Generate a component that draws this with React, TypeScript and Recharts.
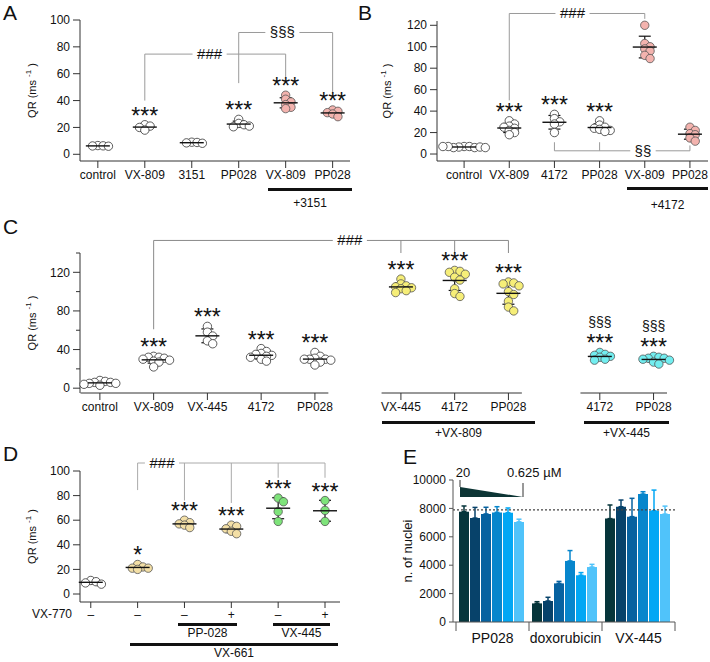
import React from 'react';
import {
  ScatterChart, Scatter, BarChart, Bar, XAxis, YAxis, ErrorBar,
  ReferenceLine, ReferenceDot,
} from 'recharts';

const FONT = '"Liberation Sans", Arial, Helvetica, sans-serif';
const AXIS = '#333';
const BRACKET = '#9a9a9a';
const R = 4.2;
const SLOT = 5.3;

const WHITE = '#ffffff';
const PINK = '#f3b3ae';
const YELLOW = '#f6ee78';
const CYAN = '#72eef0';
const BEIGE = '#f3dfa6';
const GREEN = '#7ee37a';

// ---- panel A ----
const aLabels = ['control', 'VX-809', '3151', 'PP028', 'VX-809', 'PP028'];
const aControl = [6.5, 6.3, 6.2, 6.0];
const aVX809 = [22, 21, 20, 18];
const a3151 = [9, 8.8, 8.5, 8.2];
const aPP028 = [26, 23, 22, 20.5, 21];
const aVX809_3151 = [44, 41, 39, 37, 35, 34];
const aPP028_3151 = [33, 32, 31, 30, 28];

// ---- panel B ----
const bLabels = ['control', 'VX-809', '4172', 'PP028', 'VX-809', 'PP028'];
const bControl = [7, 7, 6.5, 6, 6, 6.5, 7, 6, 7];
const bVX809 = [31, 28, 26, 25, 24, 22, 20, 18];
const b4172 = [37, 33, 30, 28, 20];
const bPP028 = [31, 27, 25, 24, 23, 22, 21];
const bVX809_4172 = [120, 103, 100, 98, 96, 92, 89];
const bPP028_4172 = [25, 22, 19, 18, 15, 12];

// ---- panel C ----
const cLabels = ['control', 'VX-809', 'VX-445', '4172', 'PP028', 'VX-445', '4172', 'PP028', '4172', 'PP028'];
const cSets = [0, 0, 0, 0, 0, 1, 1, 1, 2, 2];
const cControl = [8, 7, 6, 6, 5, 5, 4, 3];
const cVX809 = [33, 32, 32, 31, 30, 29, 28, 27, 22];
const cVX445 = [64, 58, 54, 49, 46];
const c4172 = [41, 38, 36, 35, 34, 33, 32, 30, 28];
const cPP028 = [37, 33, 31, 30, 30, 30, 29, 27, 24];
const cVX445_809 = [113, 108, 106, 105, 104, 103, 101, 99];
const c4172_809 = [122, 121, 120, 118, 115, 112, 103, 98, 95];
const cPP028_809 = [110, 109, 108, 106, 100, 97, 90, 84, 80];
const c4172_445 = [37, 35, 34, 33, 32, 30, 29];
const cPP028_445 = [33, 32, 31, 31, 30, 29, 27, 25];

// ---- panel D ----
const dLabels = ['–', '–', '–', '+', '–', '+'];
const dControl = [11, 10, 9, 8];
const dVX661 = [24, 22, 21, 21, 20];
const dPP028 = [60, 58, 57, 56, 54];
const dPP028_770 = [56, 55, 53, 51, 49];
const dVX445 = [78, 75, 67, 59];
const dVX445_770 = [76, 68, 59];

// ---- panel E ----
const eCompounds = ['PP028', 'doxorubicin', 'VX-445'];
const ePP028 = [7770, 7320, 7610, 7720, 7700, 7050];
const ePP028Err = [400, 750, 470, 400, 330, 190];
const eDoxo = [1310, 1480, 2720, 4300, 3290, 3870];
const eDoxoErr = [120, 260, 140, 730, 190, 190];
const eVX445 = [7280, 8120, 7420, 9010, 7840, 7600];
const eVX445Err = [960, 470, 1290, 165, 1450, 560];
const eBaseline = 7900;
const eColors = ['#06353b', '#07426a', '#0762a0', '#0786cc', '#02a7f4', '#50c3fa'];

type Group = { label: string; values: number[]; fill: string; x: number };
type Bracket = { y: number; from: number; to: number; text: string; at: number; legs: { g: number; to: number }[]; color?: string };
type Sig = { g: number; lines: string[] };

const mean = (a: number[]) => a.reduce((s, v) => s + v, 0) / a.length;
const sdev = (a: number[]) => {
  const m = mean(a);
  return Math.sqrt(a.reduce((s, v) => s + (v - m) ** 2, 0) / (a.length - 1));
};

// simple beeswarm: returns horizontal slot per point
function swarm(values: number[], pxPerY: number): number[] {
  const placed: { py: number; slot: number }[] = [];
  return values.map((v) => {
    const py = v * pxPerY;
    let slot = 0;
    for (let k = 0; k < 40; k++) {
      const cand = k === 0 ? 0 : k % 2 === 1 ? (k + 1) / 2 : -k / 2;
      if (!placed.some((p) => p.slot === cand && Math.abs(p.py - py) < 4)) {
        slot = cand;
        break;
      }
    }
    placed.push({ py, slot });
    return slot;
  });
}

const DotShape = (p: any) => {
  if (p.cx == null || p.cy == null) return <g />;
  return (
    <circle cx={p.cx + p.payload.slot * SLOT} cy={p.cy} r={R} fill={p.payload.fill}
      stroke={p.payload.fill === WHITE ? '#333' : '#555'} strokeWidth={0.8} />
  );
};

const MeanShape = (p: any) => {
  if (p.cx == null || p.cy == null) return <g />;
  return <line x1={p.cx - 12} x2={p.cx + 12} y1={p.cy} y2={p.cy} stroke="#111" strokeWidth={1.4} />;
};

const YTick = (p: any) => {
  const { x, y, payload, labels } = p;
  const ax = x + 3 + 7;
  const major = !labels || labels.includes(payload.value);
  return (
    <g>
      <line x1={ax} x2={ax - (major ? 7 : 4)} y1={y} y2={y} stroke={AXIS} />
      {major && (
        <text x={x} y={y} dy="0.35em" textAnchor="end" fontSize={12} fill="#111">{payload.value}</text>
      )}
    </g>
  );
};

const YLabel = (p: any) => {
  const vb = p.viewBox;
  if (!vb) return null;
  const x = vb.x + p.dx;
  const y = vb.y + vb.height / 2;
  return (
    <text transform={`translate(${x},${y}) rotate(-90)`} textAnchor="middle" fontSize={p.size || 11} fill="#111">
      {p.text}
      {p.sup && <tspan fontSize={8} dy={-5}>{p.sup}</tspan>}
      {p.sup && <tspan dy={5}> )</tspan>}
    </text>
  );
};

const SigText = (p: any) => {
  const vb = p.viewBox;
  if (!vb) return null;
  const cx = vb.x + (vb.width || 0) / 2;
  const cy = vb.y + (vb.height || 0) / 2;
  return (
    <g>
      {p.lines.map((t: string, i: number) => {
        const isStar = t.startsWith('*');
        return (
          <text key={i} x={cx} y={cy - (isStar ? 1 : 25)} textAnchor="middle"
            fontSize={isStar ? 23 : 14} fill="#111">{t}</text>
        );
      })}
    </g>
  );
};

const BracketText = (p: any) => {
  const vb = p.viewBox;
  if (!vb) return null;
  const cx = vb.x + (vb.width || 0) / 2;
  const cy = vb.y + (vb.height || 0) / 2;
  return <text x={cx} y={cy + 5} textAnchor="middle" fontSize={15} fill="#111">{p.text}</text>;
};

interface PanelProps {
  width: number; height: number;
  margin: { top: number; right: number; bottom: number; left: number };
  yAxisWidth: number; xAxisHeight: number;
  xDomain: [number, number]; yDomain: [number, number];
  yTicks: number[]; yLabels?: number[];
  groups: Group[]; brackets: Bracket[]; sigs: Sig[];
  segments?: [number, number][];
  tickSize?: number;
}

function DotPanel(props: PanelProps) {
  const { width, height, margin, yAxisWidth, xAxisHeight, xDomain, yDomain, yTicks, yLabels, groups, brackets, sigs, segments } = props;
  const plotW = width - margin.left - margin.right - yAxisWidth;
  const plotH = height - margin.top - margin.bottom - xAxisHeight;
  const pxX = plotW / (xDomain[1] - xDomain[0]);
  const pxY = plotH / (yDomain[1] - yDomain[0]);
  const dots = groups.flatMap((g) => {
    const slots = swarm(g.values, pxY);
    return g.values.map((v, i) => ({ x: g.x, y: v, slot: slots[i], fill: g.fill }));
  });
  const stats = groups.map((g) => ({ x: g.x, y: mean(g.values), sd: sdev(g.values) }));
  const tickText = new Map(groups.map((g) => [g.x, g.label]));

  const bracketEls = brackets.flatMap((b, bi) => {
    const color = b.color || BRACKET;
    const x1 = groups[b.from].x;
    const x2 = groups[b.to].x;
    const half = ((b.text.length * 0.58 * 15) / 2 + 4) / pxX;
    const parts: [number, number][] = [[x1, b.at - half], [b.at + half, x2]];
    const els: React.ReactNode[] = [];
    parts.forEach(([a, c], pi) => {
      if (c > a) {
        els.push(
          <ReferenceLine key={`b${bi}h${pi}`} segment={[{ x: a, y: b.y }, { x: c, y: b.y }]}
            stroke={color} strokeWidth={1} ifOverflow="visible" />
        );
      }
    });
    b.legs.forEach((l, li) => {
      const gx = groups[l.g].x;
      els.push(
        <ReferenceLine key={`b${bi}l${li}`} segment={[{ x: gx, y: b.y }, { x: gx, y: l.to }]}
          stroke={color} strokeWidth={1} ifOverflow="visible" />
      );
    });
    els.push(
      <ReferenceDot key={`b${bi}t`} x={b.at} y={b.y} r={0} fill="none" stroke="none" ifOverflow="visible"
        label={<BracketText text={b.text} />} />
    );
    return els;
  });

  return (
    <ScatterChart width={width} height={height} margin={margin}>
      <XAxis type="number" dataKey="x" domain={xDomain} ticks={groups.map((g) => g.x)} interval={0}
        tickFormatter={(v: number) => tickText.get(v) ?? ''} height={xAxisHeight}
        axisLine={segments ? false : { stroke: AXIS }} tickLine={{ stroke: AXIS }}
        tickSize={props.tickSize || 7} tickMargin={2} tick={{ fill: '#111', fontSize: 12 }} />
      <YAxis type="number" dataKey="y" domain={yDomain} ticks={yTicks} interval={0} width={yAxisWidth}
        axisLine={{ stroke: AXIS }} tickLine={false} tickSize={7} tickMargin={3}
        tick={<YTick labels={yLabels} />}
        label={<YLabel dx={36} text="QR (ms " sup="-1" />} />
      {segments &&
        segments.map(([a, c], i) => (
          <ReferenceLine key={`ax${i}`} segment={[{ x: a, y: yDomain[0] }, { x: c, y: yDomain[0] }]}
            stroke={AXIS} strokeWidth={1} ifOverflow="visible" />
        ))}
      {bracketEls}
      <Scatter data={dots} shape={DotShape} isAnimationActive={false} />
      <Scatter data={stats} shape={MeanShape} isAnimationActive={false}>
        <ErrorBar dataKey="sd" direction="y" width={6} stroke="#111" strokeWidth={1.2} />
      </Scatter>
      {sigs.map((s, i) => (
        <ReferenceDot key={`s${i}`} x={groups[s.g].x} y={Math.max(...groups[s.g].values)} r={0}
          fill="none" stroke="none" ifOverflow="visible" label={<SigText lines={s.lines} />} />
      ))}
    </ScatterChart>
  );
}

const ETick = (p: any) => {
  const { x, y, payload, index, visibleTicksCount, band } = p;
  const half = band / 2;
  return (
    <g>
      <line x1={x - half} x2={x - half} y1={y} y2={y + 9} stroke="#555" />
      {index === visibleTicksCount - 1 && <line x1={x + half} x2={x + half} y1={y} y2={y + 9} stroke="#555" />}
      <text x={x} y={y + 21} textAnchor="middle" fontSize={14} fill="#111">{payload.value}</text>
    </g>
  );
};

const STAR = ['***'];

const App: React.FC = () => {
  const aSeries = [aControl, aVX809, a3151, aPP028, aVX809_3151, aPP028_3151];
  const aFills = [WHITE, WHITE, WHITE, WHITE, PINK, PINK];
  const aGroups: Group[] = aLabels.map((label, i) => ({ label, values: aSeries[i], fill: aFills[i], x: i }));

  const bSeries = [bControl, bVX809, b4172, bPP028, bVX809_4172, bPP028_4172];
  const bGroups: Group[] = bLabels.map((label, i) => ({ label, values: bSeries[i], fill: aFills[i], x: i }));

  const cSeries = [cControl, cVX809, cVX445, c4172, cPP028, cVX445_809, c4172_809, cPP028_809, c4172_445, cPP028_445];
  const cShift = [0, 0.6, 1.3];
  const cFills = [WHITE, YELLOW, CYAN];
  const cGroups: Group[] = cLabels.map((label, i) => ({
    label, values: cSeries[i], fill: cFills[cSets[i]], x: i + cShift[cSets[i]],
  }));
  const cSegments: [number, number][] = [0, 1, 2].map((s) => {
    const xs = cGroups.filter((_, i) => cSets[i] === s).map((g) => g.x);
    return [Math.min(...xs) - 0.36, Math.max(...xs) + 0.25];
  });

  const dSeries = [dControl, dVX661, dPP028, dPP028_770, dVX445, dVX445_770];
  const dFills = [WHITE, BEIGE, BEIGE, BEIGE, GREEN, GREEN];
  const dGroups: Group[] = dLabels.map((label, i) => ({ label, values: dSeries[i], fill: dFills[i], x: i }));

  const eMeans = [ePP028, eDoxo, eVX445];
  const eErrs = [ePP028Err, eDoxoErr, eVX445Err];
  const eRows = eCompounds.map((name, ci) => {
    const row: any = { name };
    eColors.forEach((_, k) => {
      row[`v${k}`] = eMeans[ci][k];
      row[`e${k}`] = [0, eErrs[ci][k]];
    });
    return row;
  });
  const eBand = (310 - 35 - 53 - 3) / 3;

  const underlines = [
    { left: 268, top: 188, width: 84, text: '+3151', textTop: 196 },
    { left: 627, top: 187, width: 81, text: '+4172', textTop: 198 },
    { left: 382, top: 421, width: 153, text: '+VX-809', textTop: 426 },
    { left: 584, top: 421, width: 85, text: '+VX-445', textTop: 426 },
    { left: 178, top: 623, width: 59, text: 'PP-028', textTop: 626 },
    { left: 273, top: 623, width: 57, text: 'VX-445', textTop: 626 },
    { left: 130, top: 643, width: 208, text: 'VX-661', textTop: 646 },
  ];
  const letters = [
    { t: 'A', left: 3, top: 2 }, { t: 'B', left: 358, top: 2 }, { t: 'C', left: 3, top: 216 },
    { t: 'D', left: 3, top: 443 }, { t: 'E', left: 403, top: 446 },
  ];

  return (
    <div style={{ position: 'fixed', left: 0, top: 0, width: 710, height: 662, background: '#fff', fontFamily: FONT, color: '#111', overflow: 'hidden' }}>
      <div style={{ position: 'absolute', left: 0, top: 0 }}>
        <DotPanel width={355} height={190} margin={{ top: 20, right: 5, bottom: 0, left: 0 }} yAxisWidth={80} xAxisHeight={29}
          xDomain={[-0.38, 5.37]} yDomain={[-5, 100]} yTicks={[0, 20, 40, 60, 80, 100]} groups={aGroups}
          brackets={[
            { y: 74.6, from: 1, to: 4, text: '###', at: 2.38, legs: [{ g: 1, to: 40 }, { g: 4, to: 57.5 }] },
            { y: 90.7, from: 3, to: 5, text: '§§§', at: 3.93, legs: [{ g: 3, to: 53 }, { g: 5, to: 45.5 }] },
          ]}
          sigs={[1, 3, 4, 5].map((g) => ({ g, lines: STAR }))} />
      </div>
      <div style={{ position: 'absolute', left: 355, top: 0 }}>
        <DotPanel width={355} height={190} margin={{ top: 21, right: 2, bottom: 0, left: 0 }} yAxisWidth={82} xAxisHeight={29}
          xDomain={[-0.6, 5.4]} yDomain={[-6.5, 124]} yTicks={[0, 20, 40, 60, 80, 100, 120]} groups={bGroups}
          brackets={[
            { y: 131, from: 1, to: 4, text: '###', at: 2.4, legs: [{ g: 1, to: 50 }, { g: 4, to: 126 }] },
            { y: 3, from: 2, to: 5, text: '§§', at: 3.96, legs: [{ g: 2, to: 11 }, { g: 3, to: 11 }, { g: 5, to: 8 }] },
          ]}
          sigs={[1, 2, 3].map((g) => ({ g, lines: STAR }))} />
      </div>
      <div style={{ position: 'absolute', left: 0, top: 200 }}>
        <DotPanel width={710} height={215} margin={{ top: 53, right: 43, bottom: 0, left: 0 }} yAxisWidth={80} xAxisHeight={22}
          xDomain={[-0.37, 10.55]} yDomain={[-5, 140]} yTicks={[0, 20, 40, 60, 80, 100, 120, 140]} yLabels={[0, 40, 80, 120]}
          groups={cGroups} segments={cSegments}
          brackets={[
            { y: 153, from: 1, to: 7, text: '###', at: 4.65, color: '#8a8a8a',
              legs: [{ g: 1, to: 61 }, { g: 5, to: 140 }, { g: 6, to: 140 }, { g: 7, to: 140 }] },
          ]}
          sigs={[
            ...[1, 2, 3, 4, 5, 6, 7].map((g) => ({ g, lines: STAR })),
            { g: 8, lines: ['§§§', '***'] }, { g: 9, lines: ['§§§', '***'] },
          ]} />
      </div>
      <div style={{ position: 'absolute', left: 0, top: 440 }}>
        <DotPanel width={355} height={195} margin={{ top: 31, right: 15, bottom: 15, left: 0 }} yAxisWidth={80} xAxisHeight={18}
          xDomain={[-0.23, 5.32]} yDomain={[-6.5, 100]} yTicks={[0, 20, 40, 60, 80, 100]} groups={dGroups} tickSize={6}
          brackets={[
            { y: 106.5, from: 1, to: 5, text: '###', at: 1.52, color: '#aaa',
              legs: [{ g: 1, to: 84.5 }, { g: 2, to: 76 }, { g: 3, to: 74 }, { g: 4, to: 94.5 }, { g: 5, to: 94.5 }] },
          ]}
          sigs={[{ g: 1, lines: ['*'] }, ...[2, 3, 4, 5].map((g) => ({ g, lines: STAR }))]} />
      </div>
      <div style={{ position: 'absolute', left: 400, top: 440 }}>
        <BarChart width={310} height={222} data={eRows} margin={{ top: 40, right: 35, bottom: 0, left: 0 }}
          barCategoryGap={3} barGap={1}>
          <XAxis dataKey="name" height={40} padding={{ left: 3, right: 0 }} axisLine={{ stroke: '#555' }} tickLine={false}
            tickSize={0} tickMargin={0} interval={0} tick={<ETick band={eBand} />} />
          <YAxis domain={[0, 10000]} ticks={[0, 2000, 4000, 6000, 8000, 10000]} interval={0} width={53}
            axisLine={{ stroke: '#555' }} tickLine={{ stroke: '#555' }} tickSize={4} tickMargin={3}
            tick={{ fill: '#111', fontSize: 12 }}
            label={<YLabel dx={12} text="n. of nuclei" size={13} />} />
          {eColors.map((c, k) => (
            <Bar key={k} dataKey={`v${k}`} fill={c} isAnimationActive={false}>
              <ErrorBar dataKey={`e${k}`} direction="y" width={2.5} stroke={c} strokeWidth={1.5} />
            </Bar>
          ))}
          <ReferenceLine y={eBaseline} stroke="#444" strokeDasharray="2 2" strokeWidth={1.2} />
        </BarChart>
      </div>

      <svg width={710} height={662} style={{ position: 'absolute', left: 0, top: 0, pointerEvents: 'none' }}>
        <polygon points="460,487 523,497 460,497" fill="#0d3535" />
        <line x1={460} x2={460} y1={480} y2={487} stroke="#333" />
        <line x1={523} x2={523} y1={483} y2={497} stroke="#333" />
        <text x={463} y={477} textAnchor="middle" fontSize={13} fill="#111">20</text>
        <text x={507} y={477} fontSize={13} fill="#111">0.625 µM</text>
        <text x={72} y={618} textAnchor="end" fontSize={12} fill="#111">VX-770</text>
      </svg>

      {underlines.map((u, i) => (
        <React.Fragment key={i}>
          <div style={{ position: 'absolute', left: u.left, top: u.top, width: u.width, height: 2.5, background: '#111' }} />
          <div style={{ position: 'absolute', left: u.left - 20, top: u.textTop, width: u.width + 40, textAlign: 'center', fontSize: 12, lineHeight: '14px' }}>
            {u.text}
          </div>
        </React.Fragment>
      ))}
      {letters.map((l) => (
        <div key={l.t} style={{ position: 'absolute', left: l.left, top: l.top, fontSize: 21, lineHeight: '21px' }}>{l.t}</div>
      ))}
    </div>
  );
};

export default App;
